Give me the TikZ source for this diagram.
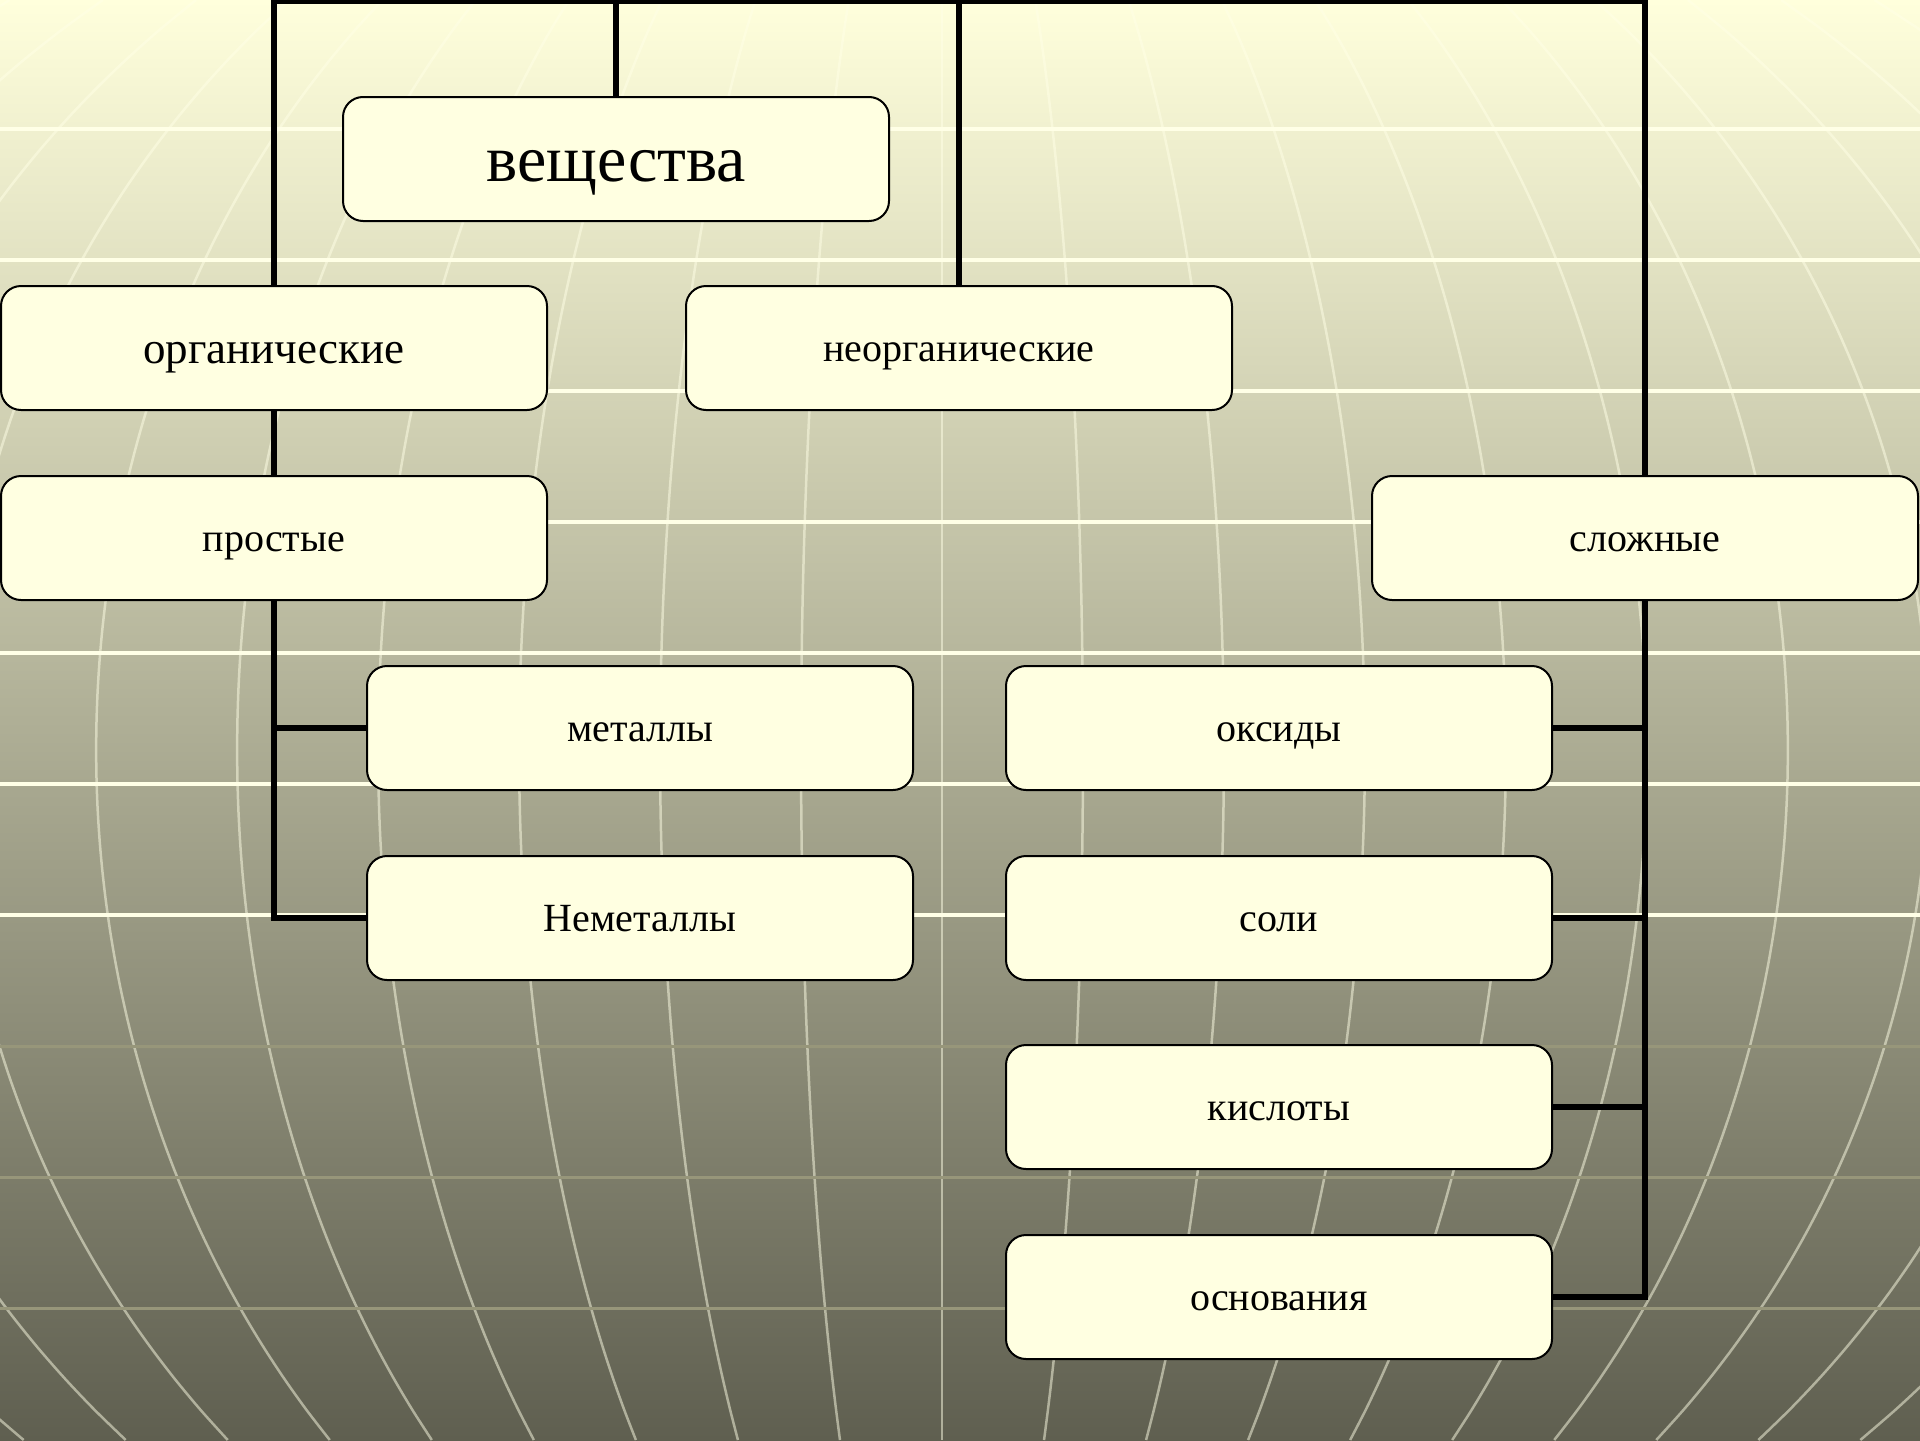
\documentclass[tikz,border=0pt]{standalone}
\usepackage{fontspec}
\setmainfont{Liberation Serif}

\definecolor{bgtop}{HTML}{FFFFDC}
\definecolor{bgbottom}{HTML}{5F5F50}
\definecolor{gridcream}{HTML}{FFFFE6}
\definecolor{gridkhaki}{HTML}{97967A}
\definecolor{boxfill}{HTML}{FFFFE1}

\tikzset{
	box/.style={rectangle, draw, rounded corners=10pt, fill=boxfill, line width=1pt,
		minimum width=273pt, minimum height=62pt, inner sep=0pt,
		text height=18pt, text depth=4.2pt, font=\fontsize{20}{24}\selectfont},
	link/.style={line width=3pt},
}

\def\globe{
	\shade[top color=bgtop, bottom color=bgbottom] (0,0) rectangle (1920,1440);
	\begin{scope}
		\clip (0,0) rectangle (1920,1440);
		\foreach \k in {-10,...,10}
			\draw[gridcream, opacity=0.5, line width=1.25pt] plot[domain=0:1440, samples=49, smooth]
				({942+\k*140*sqrt(100-((\x-750)/100)^2)/9.931}, \x);
		\foreach \i in {0,...,6}
			\draw[gridcream, line width=2pt] (0,129+131*\i) -- (1920,129+131*\i);
		\foreach \i in {7,8,9}
			\draw[gridkhaki, line width=1.5pt] (0,129+131*\i) -- (1920,129+131*\i);
	\end{scope}
}
\def\upper{
	\path (616,159) node(Substances) [box, text height=29.7pt, text depth=6.9pt, font=\fontsize{33}{40}\selectfont] {вещества}
			(274,348) node(Organic) [box, text height=20.2pt, text depth=4.7pt, font=\fontsize{22.5}{27}\selectfont] {органические}
			(959,348) node(Inorganic) [box] {неорганические};
	\coordinate (Bus) at (0,1);
}
\def\leftbranch{
	\path (274,538) node(Simple) [box] {простые}
			(640,728) node(Metals) [box] {металлы}
			(640,918) node(Nonmetals) [box] {Неметаллы};
}
\def\rightbranch{
	\path (1645,538) node(Complex) [box] {сложные}
			(1279,728) node(Oxides) [box] {оксиды}
			(1279,918) node(Salts) [box] {соли}
			(1279,1107) node(Acids) [box] {кислоты}
			(1279,1297) node(Bases) [box] {основания};
}

\begin{document}
\begin{tikzpicture}[x=0.5pt, y=-0.5pt]
\useasboundingbox (0,0) rectangle (1920,1440);
\globe
\upper
\leftbranch
\rightbranch
\draw[link] (Organic.north) -- (Organic.north |- Bus) -- (Complex.north |- Bus) -- (Complex.north);
\draw[link] (Substances.north) -- (Substances.north |- Bus);
\draw[link] (Inorganic.north) -- (Inorganic.north |- Bus);
\draw[link] (Organic.south) -- (Simple.north);
\draw[link] (Simple.south) |- (Nonmetals.west);
\draw[link] (Simple.south |- Metals.west) -- (Metals.west);
\draw[link] (Complex.south) |- (Bases.east);
\draw[link] (Oxides.east) -- (Oxides.east -| Complex.south);
\draw[link] (Salts.east) -- (Salts.east -| Complex.south);
\draw[link] (Acids.east) -- (Acids.east -| Complex.south);
\end{tikzpicture}
\end{document}
